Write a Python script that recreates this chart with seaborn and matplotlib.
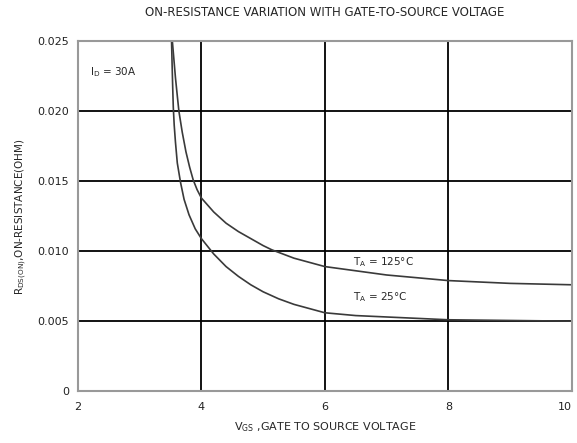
import matplotlib
matplotlib.use('Agg')
import matplotlib.pyplot as plt
import seaborn as sns
import pandas as pd

# Values
vgs_125 = [3.53, 3.555, 3.58, 3.61, 3.636, 3.69, 3.75, 3.81, 3.867, 3.93, 4.0, 4.2, 4.4, 4.6, 4.8,
           5.0, 5.14, 5.5, 6.0, 6.5, 7.0, 7.5, 8.0, 9.0, 10.0]
r_125 = [0.025, 0.0237, 0.0224, 0.0211, 0.0200, 0.0185, 0.0171, 0.0160, 0.0151, 0.0144, 0.0138, 0.0128, 0.0120, 0.0114, 0.0109,
         0.0104, 0.0101, 0.0095, 0.0089, 0.0086, 0.0083, 0.0081, 0.0079, 0.0077, 0.0076]

vgs_25 = [3.517, 3.525, 3.535, 3.545, 3.56, 3.58, 3.61, 3.663, 3.72, 3.8, 3.9, 4.0, 4.2, 4.4, 4.6, 4.8,
          5.0, 5.25, 5.5, 5.75, 6.0, 6.5, 7.0, 7.5, 8.0, 9.0, 10.0]
r_25 = [0.025, 0.0235, 0.0218, 0.0203, 0.0190, 0.0178, 0.0163, 0.0149, 0.0137, 0.0126, 0.0116, 0.0109, 0.0098, 0.0089, 0.0082, 0.0076,
        0.0071, 0.0066, 0.0062, 0.0059, 0.0056, 0.0054, 0.0053, 0.0052, 0.0051, 0.00505, 0.0050]

x_ticks = [2, 4, 6, 8, 10]
y_ticks = [0, 0.005, 0.010, 0.015, 0.020, 0.025]
y_tick_labels = ['0', '0.005', '0.010', '0.015', '0.020', '0.025']

df = pd.concat([
    pd.DataFrame({'Vgs': vgs_125, 'R': r_125, 'Temp': '125'}),
    pd.DataFrame({'Vgs': vgs_25, 'R': r_25, 'Temp': '25'}),
])

sns.set_style('white')
plt.rcParams['font.family'] = ['Liberation Sans Narrow', 'DejaVu Sans']
plt.rcParams['mathtext.fontset'] = 'custom'
plt.rcParams['mathtext.rm'] = 'Liberation Sans Narrow'
plt.rcParams['mathtext.it'] = 'Liberation Sans Narrow'

fig = plt.figure(figsize=(5.77, 4.43), dpi=100)
ax = fig.add_axes([0.135, 0.117, 0.856, 0.790])

sns.lineplot(data=df, x='Vgs', y='R', hue='Temp', palette={'125': '#3a3a3a', '25': '#3a3a3a'},
             linewidth=1.2, legend=False, ax=ax, sort=False, estimator=None)

ax.set_xlim(2, 10)
ax.set_ylim(0, 0.025)
ax.set_xticks(x_ticks)
ax.set_xticklabels([str(t) for t in x_ticks])
ax.set_yticks(y_ticks)
ax.set_yticklabels(y_tick_labels)
ax.get_xticklabels()[-1].set_horizontalalignment('right')

for xv in [4, 6, 8]:
    ax.axvline(xv, color='black', lw=1.3, zorder=0)
for yv in [0.005, 0.010, 0.015, 0.020]:
    ax.axhline(yv, color='black', lw=1.3, zorder=0)

for s in ax.spines.values():
    s.set_color('#999999')
    s.set_linewidth(1.5)

ax.tick_params(axis='both', labelsize=8, colors='#222222', length=3, width=1)
ax.tick_params(axis='x', length=0, pad=8)

ax.set_xlabel(r'V$_{GS}$ ,GATE TO SOURCE VOLTAGE', fontsize=8, labelpad=6)
ax.set_ylabel(r'R$_{DS(ON)}$,ON-RESISTANCE(OHM)', fontsize=7.5, labelpad=6)
ax.set_title('ON-RESISTANCE VARIATION WITH GATE-TO-SOURCE VOLTAGE', fontsize=8.5, pad=18)

ax.text(2.2, 0.0228, r'I$_D$ = 30A', fontsize=7.5, va='center')
ax.text(6.45, 0.0092, r'T$_A$ = 125°C', fontsize=7.5, va='center')
ax.text(6.45, 0.0067, r'T$_A$ = 25°C', fontsize=7.5, va='center')

fig.savefig('out.png', dpi=100)
